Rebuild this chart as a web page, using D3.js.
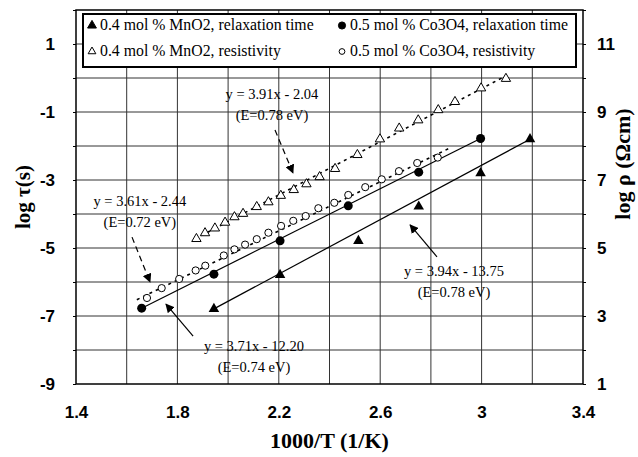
<!DOCTYPE html>
<html>
<head>
<meta charset="utf-8">
<script src="https://cdn.jsdelivr.net/npm/d3@7"></script>
<style>
  body { margin: 0; background: #fff; }
  svg { display: block; font-family: 'Liberation Serif', 'Times New Roman', serif; }
  .tick-lbl { font-weight: bold; font-size: 17px; }
  .axis-title { font-weight: bold; font-size: 21px; }
</style>
</head>
<body>
<div id="chart"></div>
<script>
// 0.4 mol % MnO2, relaxation time (log tau, left axis)
const mnTauX = [1.944, 2.205, 2.514, 2.752, 2.996, 3.191]
const mnTauY = [-6.79, -5.79, -4.79, -3.78, -2.80, -1.80]
// 0.5 mol % Co3O4, relaxation time (log tau, left axis)
const coTauX = [1.659, 1.944, 2.205, 2.474, 2.752, 2.996]
const coTauY = [-6.77, -5.77, -4.79, -3.76, -2.77, -1.78]
// 0.4 mol % MnO2, resistivity (log rho, right axis)
const mnRhoX = [1.875, 1.909, 1.948, 1.988, 2.025, 2.059, 2.113, 2.159, 2.208, 2.259, 2.309,
                2.361, 2.422, 2.510, 2.599, 2.675, 2.750, 2.829, 2.895, 2.998, 3.096]
const mnRhoY = [5.27, 5.44, 5.58, 5.75, 5.91, 6.01, 6.21, 6.35, 6.54, 6.71, 6.88,
                7.09, 7.33, 7.74, 8.20, 8.52, 8.76, 9.06, 9.30, 9.70, 9.98]
// 0.5 mol % Co3O4, resistivity (log rho, right axis)
const coRhoX = [1.680, 1.738, 1.807, 1.872, 1.910, 1.983, 2.025, 2.067, 2.113, 2.159, 2.209,
                2.257, 2.306, 2.356, 2.419, 2.474, 2.541, 2.606, 2.674, 2.746, 2.827]
const coRhoY = [3.53, 3.82, 4.09, 4.34, 4.48, 4.78, 4.96, 5.10, 5.26, 5.45, 5.65,
                5.80, 5.94, 6.17, 6.33, 6.56, 6.79, 7.02, 7.26, 7.50, 7.66]
// linear fits of the resistivity data (right axis)
const mnFitX = [1.87, 3.10]
const mnFitY = [5.27, 10.08]
const coFitX = [1.64, 2.88]
const coFitY = [3.48, 7.96]

const xTicks = [1.4, 1.8, 2.2, 2.6, 3, 3.4]
const leftTicks = [-9, -7, -5, -3, -1, 1]
const rightTicks = [1, 3, 5, 7, 9, 11]

const legendLabels = [
  '0.4 mol % MnO2, relaxation time', '0.5 mol % Co3O4, relaxation time',
  '0.4 mol % MnO2, resistivity', '0.5 mol % Co3O4, resistivity'
]

// annotations (left axis units)
const noteLines = [
  ['y = 3.91x - 2.04', '(E=0.78 eV)'],
  ['y = 3.61x - 2.44', '(E=0.72 eV)'],
  ['y = 3.71x - 12.20', '(E=0.74 eV)'],
  ['y = 3.94x - 13.75', '(E=0.78 eV)']
]
const noteX = [2.173, 1.652, 2.102, 2.891]
const noteY = [-0.62, -3.76, -8.03, -5.82]
const arrowFromX = [2.185, 1.621, 1.862, 2.824]
const arrowFromY = [-1.53, -4.68, -7.59, -5.26]
const arrowToX = [2.256, 1.692, 1.755, 2.718]
const arrowToY = [-2.79, -6.00, -6.65, -4.32]
const arrowDashed = [true, true, false, false]

const width = 638, height = 457
const svg = d3.select('#chart').append('svg')
  .attr('width', width).attr('height', height)

const x = d3.scaleLinear().domain([1.4, 3.4]).range([76, 583])
const yL = d3.scaleLinear().domain([-9, 2]).range([384, 10])
const yR = d3.scaleLinear().domain([1, 12]).range([384, 10])

// grid
svg.append('g').selectAll('line')
  .data(d3.range(1, 10).map(i => 1.4 + i * 0.2))
  .join('line')
  .attr('x1', d => x(d)).attr('x2', d => x(d))
  .attr('y1', yL(-9)).attr('y2', yL(2))
  .attr('stroke', '#333').attr('stroke-width', 1)
svg.append('g').selectAll('line')
  .data(d3.range(-8, 2))
  .join('line')
  .attr('x1', x(1.4)).attr('x2', x(3.4))
  .attr('y1', d => yL(d)).attr('y2', d => yL(d))
  .attr('stroke', '#333').attr('stroke-width', 1)

// axes
const leftAxis = d3.axisLeft(yL).tickValues(d3.range(-9, 3)).tickSize(3)
  .tickFormat(d => leftTicks.includes(d) ? d : '')
svg.append('g').attr('transform', `translate(${x(1.4)},0)`).call(leftAxis)
  .call(g => g.select('.domain').remove())
  .call(g => g.selectAll('text').attr('class', 'tick-lbl').attr('dx', -15).attr('font-family', null).attr('font-size', null))

const rightAxis = d3.axisRight(yR).tickValues(d3.range(1, 13)).tickSize(3)
  .tickFormat(d => rightTicks.includes(d) ? d : '')
svg.append('g').attr('transform', `translate(${x(3.4)},0)`).call(rightAxis)
  .call(g => g.select('.domain').remove())
  .call(g => g.selectAll('text').attr('class', 'tick-lbl').attr('dx', 8).attr('font-family', null).attr('font-size', null))

const bottomAxis = d3.axisBottom(x).tickValues(xTicks).tickSize(0).tickFormat(d3.format(''))
svg.append('g').attr('transform', `translate(0,${yL(-9)})`).call(bottomAxis)
  .call(g => g.select('.domain').remove())
  .call(g => g.selectAll('text').attr('class', 'tick-lbl').attr('dy', '1.8em').attr('font-family', null).attr('font-size', null))

// frame
svg.append('rect')
  .attr('x', x(1.4)).attr('y', yL(2))
  .attr('width', x(3.4) - x(1.4)).attr('height', yL(-9) - yL(2))
  .attr('fill', 'none').attr('stroke', '#000').attr('stroke-width', 1.5)

// axis titles
svg.append('text').attr('class', 'axis-title')
  .attr('text-anchor', 'middle')
  .attr('transform', `translate(30,${(yL(-9) + yL(2)) / 2}) rotate(-90)`)
  .text('log τ(s)')
svg.append('text').attr('class', 'axis-title')
  .attr('text-anchor', 'middle')
  .attr('transform', `translate(630,164) rotate(-90)`)
  .style('font-size', '22px')
  .text('log ρ (Ωcm)')
svg.append('text').attr('class', 'axis-title')
  .attr('text-anchor', 'middle')
  .attr('x', (x(1.4) + x(3.4)) / 2).attr('y', 448)
  .style('font-size', '22px')
  .text('1000/T (1/K)')

// arrowhead
const defs = svg.append('defs')
defs.append('marker').attr('id', 'head')
  .attr('viewBox', '0 0 10 10').attr('refX', 9).attr('refY', 5)
  .attr('markerWidth', 9).attr('markerHeight', 9).attr('markerUnits', 'userSpaceOnUse')
  .attr('orient', 'auto')
  .append('path').attr('d', 'M0,0 L10,5 L0,10 Z').attr('fill', '#000')

// fit lines
const lineL = d3.line().x(d => x(d[0])).y(d => yL(d[1]))
const lineR = d3.line().x(d => x(d[0])).y(d => yR(d[1]))
const ends = (xs, ys) => [[xs[0], ys[0]], [xs[xs.length - 1], ys[ys.length - 1]]]

svg.append('path').attr('d', lineL(ends(mnTauX, mnTauY)))
  .attr('stroke', '#000').attr('stroke-width', 1.2).attr('fill', 'none')
svg.append('path').attr('d', lineL(ends(coTauX, coTauY)))
  .attr('stroke', '#000').attr('stroke-width', 1.2).attr('fill', 'none')
svg.append('path').attr('d', lineR(d3.zip(mnFitX, mnFitY)))
  .attr('stroke', '#000').attr('stroke-width', 1.6).attr('stroke-dasharray', '3,4').attr('fill', 'none')
svg.append('path').attr('d', lineR(d3.zip(coFitX, coFitY)))
  .attr('stroke', '#000').attr('stroke-width', 1.6).attr('stroke-dasharray', '3,4').attr('fill', 'none')

// markers
const tri = d3.symbol().type(d3.symbolTriangle)
svg.append('g').selectAll('path')
  .data(d3.zip(mnRhoX, mnRhoY)).join('path')
  .attr('d', tri.size(38)())
  .attr('transform', d => `translate(${x(d[0])},${yR(d[1])})`)
  .attr('fill', '#fff').attr('stroke', '#000').attr('stroke-width', 1)
svg.append('g').selectAll('circle')
  .data(d3.zip(coRhoX, coRhoY)).join('circle')
  .attr('cx', d => x(d[0])).attr('cy', d => yR(d[1])).attr('r', 3.6)
  .attr('fill', '#fff').attr('stroke', '#000').attr('stroke-width', 1)
svg.append('g').selectAll('path')
  .data(d3.zip(mnTauX, mnTauY)).join('path')
  .attr('d', d3.symbol().type(d3.symbolTriangle).size(48)())
  .attr('transform', d => `translate(${x(d[0])},${yL(d[1])})`)
  .attr('fill', '#000')
svg.append('g').selectAll('circle')
  .data(d3.zip(coTauX, coTauY)).join('circle')
  .attr('cx', d => x(d[0])).attr('cy', d => yL(d[1])).attr('r', 4.5)
  .attr('fill', '#000')

// annotations
noteLines.forEach((lines, i) => {
  const t = svg.append('text')
    .attr('text-anchor', 'middle')
    .attr('font-size', '14.5px')
  lines.forEach((s, j) => {
    t.append('tspan').attr('x', x(noteX[i])).attr('y', yL(noteY[i]) + j * 21).text(s)
  })
  svg.append('line')
    .attr('x1', x(arrowFromX[i])).attr('y1', yL(arrowFromY[i]))
    .attr('x2', x(arrowToX[i])).attr('y2', yL(arrowToY[i]))
    .attr('stroke', '#000').attr('stroke-width', 1.2)
    .attr('stroke-dasharray', arrowDashed[i] ? '6,4' : null)
    .attr('marker-end', 'url(#head)')
})

// legend
const legend = svg.append('g')
legend.append('rect')
  .attr('x', 83).attr('y', 14).attr('width', 493).attr('height', 53)
  .attr('fill', '#fff').attr('stroke', '#000').attr('stroke-width', 2)
const legendItems = legend.selectAll('.legend-item')
  .data(legendLabels).join('g')
  .attr('class', 'legend-item')
  .attr('transform', (d, i) => `translate(${i % 2 === 0 ? 92 : 342},${i < 2 ? 30 : 56})`)
legendItems.append('path')
  .attr('d', (d, i) => (i % 2 === 0
    ? d3.symbol().type(d3.symbolTriangle).size(i < 2 ? 34 : 26)
    : d3.symbol().type(d3.symbolCircle).size(i < 2 ? 40 : 26))())
  .attr('transform', 'translate(0,-4.5)')
  .attr('fill', (d, i) => i < 2 ? '#000' : '#fff')
  .attr('stroke', '#000').attr('stroke-width', 1)
legendItems.append('text')
  .attr('x', 8)
  .attr('font-size', '15.8px')
  .text(d => d)
</script>
</body>
</html>
